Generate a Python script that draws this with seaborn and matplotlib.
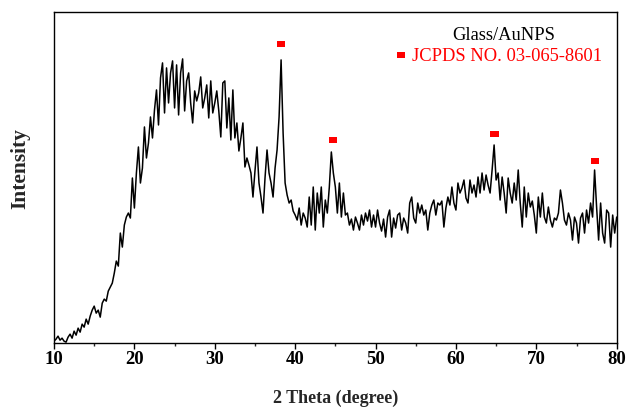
import numpy as np
import pandas as pd
import matplotlib
matplotlib.use("Agg")
import matplotlib.pyplot as plt
import seaborn as sns
from matplotlib.ticker import MultipleLocator

# 2 theta from 10 to 80 in 0.25 degree steps
two_theta = [10 + 0.25 * i for i in range(281)]
intensity = [
    2, 4, 7, 3, 5, 2, 1, 6, 9, 5, 12, 8, 15, 11, 19, 16, 24, 19, 27, 33,
    37, 30, 33, 26, 40, 44, 42, 52, 56, 60, 70, 82, 77, 110, 96, 118, 126, 130, 125, 165,
    135, 170, 196, 160, 175, 216, 185, 200, 226, 205, 233, 253, 218, 265, 280, 230, 275, 240, 270, 282,
    235, 278, 228, 270, 284, 232, 262, 270, 240, 220, 252, 242, 250, 266, 235, 245, 258, 225, 262, 230,
    240, 252, 232, 206, 260, 262, 215, 245, 203, 253, 205, 220, 192, 205, 220, 176, 185, 178, 170, 146,
    172, 196, 160, 146, 130, 165, 193, 170, 160, 146, 175, 193, 226, 283, 210, 160, 148, 140, 143, 132,
    128, 123, 135, 118, 130, 125, 116, 146, 118, 156, 113, 150, 130, 156, 116, 143, 130, 156, 191, 170,
    156, 130, 160, 126, 150, 128, 130, 118, 124, 113, 126, 120, 113, 128, 118, 130, 122, 133, 116, 128,
    116, 133, 120, 112, 124, 106, 126, 133, 106, 125, 115, 128, 130, 113, 125, 120, 110, 140, 146, 125,
    120, 140, 130, 138, 128, 133, 113, 130, 138, 143, 128, 140, 138, 142, 116, 135, 146, 138, 156, 140,
    133, 160, 150, 155, 163, 145, 140, 163, 150, 158, 146, 166, 150, 170, 153, 168, 158, 150, 173, 198,
    163, 170, 143, 166, 150, 130, 165, 150, 140, 160, 143, 173, 140, 116, 156, 126, 150, 136, 142, 128,
    110, 146, 126, 150, 126, 120, 136, 123, 116, 125, 123, 130, 153, 140, 123, 118, 130, 123, 103, 126,
    120, 100, 125, 130, 110, 133, 120, 140, 126, 173, 136, 103, 140, 110, 100, 133, 130, 96, 128, 110,
    126,
]

# JCPDS reference peak markers
peak_theta = [38.2, 44.7, 64.8, 77.3]
peak_mark = [299, 203, 209, 182]

sample_label = "Glass/AuNPS"
ref_label = "JCPDS NO. 03-065-8601"

df = pd.DataFrame({"theta": two_theta, "I": intensity})
pk = pd.DataFrame({"theta": peak_theta, "I": peak_mark})

sns.set_theme(style="white")
plt.rcParams["font.family"] = ["Liberation Serif", "DejaVu Serif"]

fig = plt.figure(figsize=(6.28, 4.09), dpi=100)
ax = fig.add_axes([0.086, 0.161, 0.896, 0.810])

rect = [(-1, -0.7), (1, -0.7), (1, 0.7), (-1, 0.7), (-1, -0.7)]

sns.lineplot(data=df, x="theta", y="I", ax=ax, color="black", linewidth=1.1)
sns.scatterplot(data=pk, x="theta", y="I", ax=ax, color="#ff0000", marker=rect,
                s=36, linewidth=0, edgecolor="none")

ax.set_xlim(10, 80)
ax.set_ylim(0, 331)
ax.xaxis.set_major_locator(MultipleLocator(10))
ax.xaxis.set_minor_locator(MultipleLocator(5))
ax.tick_params(axis="x", which="major", direction="out", length=4, width=1,
               bottom=True, labelsize=13.5, pad=2, colors="black")
ax.tick_params(axis="x", which="minor", direction="out", length=2.5, width=1, bottom=True)
ax.set_yticks([])
for lab in ax.get_xticklabels():
    lab.set_fontweight("bold")
for sp in ax.spines.values():
    sp.set_color("black")
    sp.set_linewidth(1.0)

ax.set_xlabel("2 Theta (degree)", fontsize=13, fontweight="bold", labelpad=15)
ax.set_ylabel("")
ax.text(-0.0604, 0.526, "Intensity", transform=ax.transAxes, fontsize=15.5,
        fontweight="bold", rotation=90, ha="center", va="center")

# legend-like annotations
ax.text(0.800, 0.930, sample_label, transform=ax.transAxes, fontsize=13.3,
        ha="center", va="center", color="black")
ax.scatter([0.616], [0.869], transform=ax.transAxes, marker=rect, s=36,
           color="#ff0000", linewidth=0)
ax.text(0.636, 0.866, ref_label, transform=ax.transAxes, fontsize=13.3,
        ha="left", va="center", color="#ff0000")

fig.savefig("out.png", dpi=100)
